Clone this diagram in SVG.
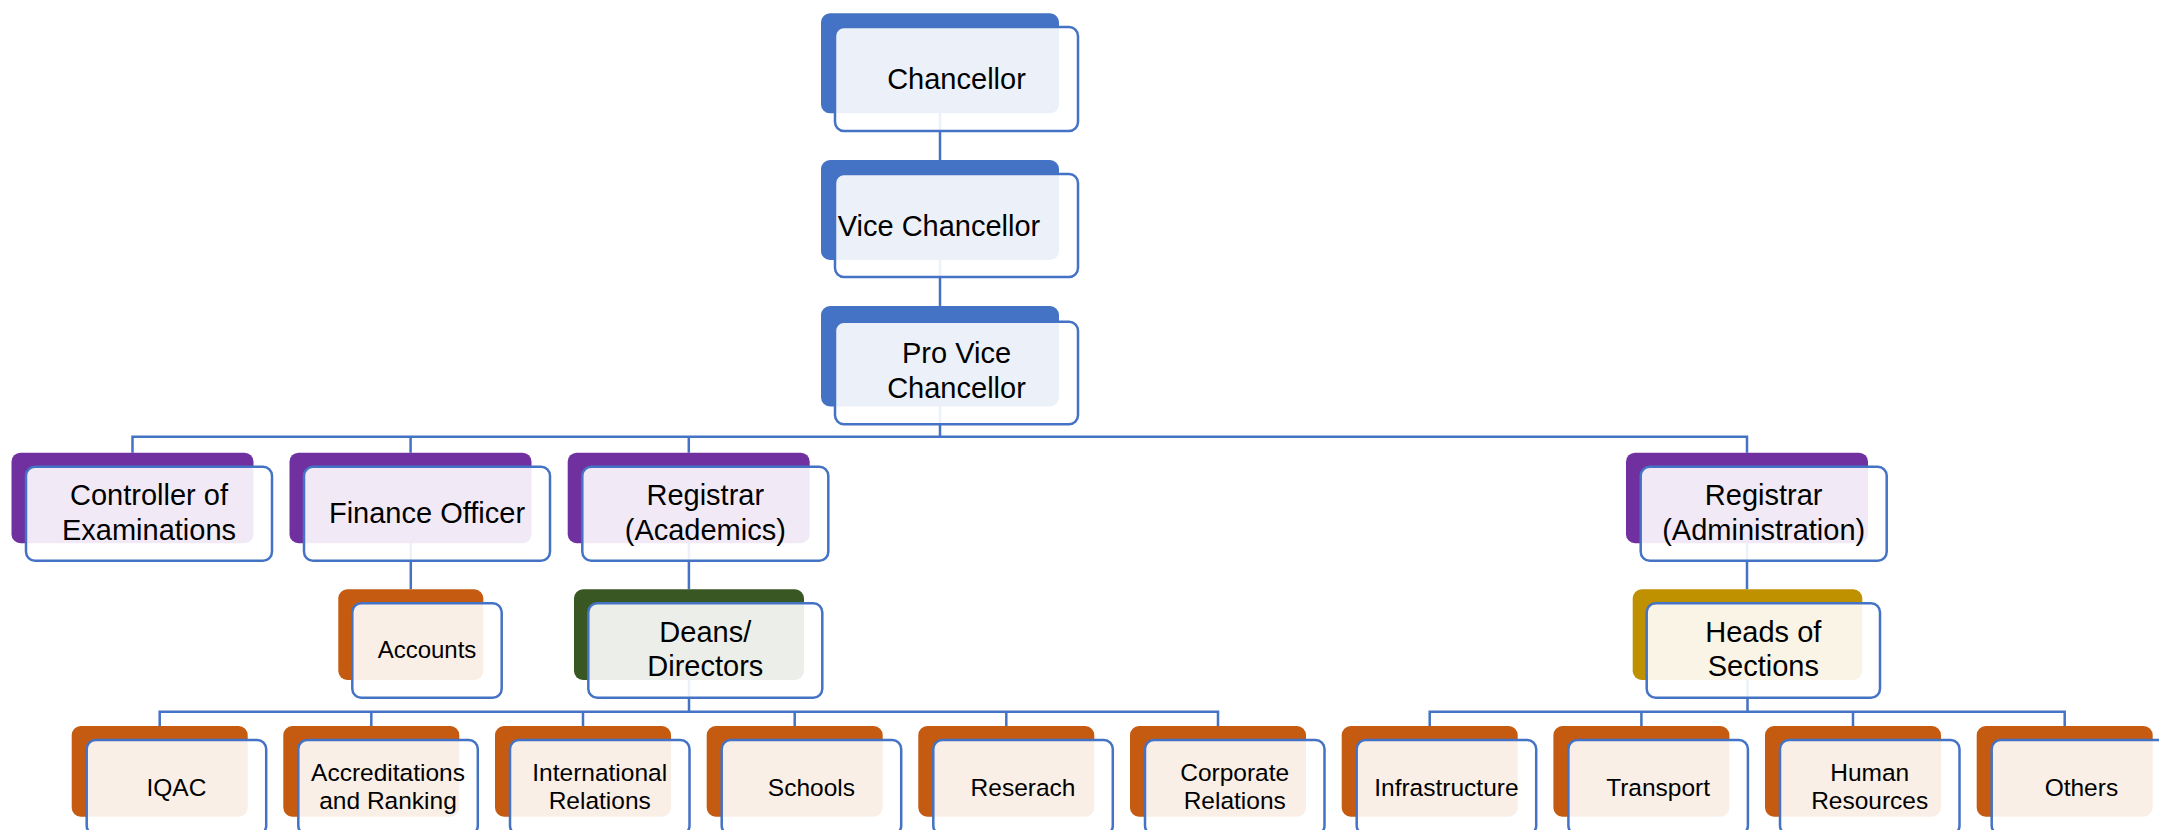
<svg xmlns="http://www.w3.org/2000/svg" width="2159" height="830" viewBox="0 0 2159 830">
<style>
.bk{stroke:none}
.blue{fill:#4472C4}
.purple{fill:#7030A0}
.orange{fill:#C55A11}
.green{fill:#385723}
.gold{fill:#BF9000}
.fr{fill:#FFFFFF;fill-opacity:0.9;stroke:#4472C4;stroke-width:2.5}
.cn{fill:none;stroke:#4472C4;stroke-width:2.5}
text{font-family:"Liberation Sans",Arial,sans-serif;fill:#000;text-anchor:middle}
.t1{font-size:29px}
.t3{font-size:24px}
.t4{font-size:24.5px}
</style>
<rect width="2159" height="830" fill="#FFFFFF"/>
<g id="connectors">
<path class="cn" d="M940,113 V160 M940,260 V306 M940,406 V436.7"/>
<path class="cn" d="M132.5,452.7 V436.7 H1747 V452.7 M410.6,436.7 V452.7 M688.8,436.7 V452.7"/>
<path class="cn" d="M410.8,543 V589.3 M688.9,543 V589.3 M1747,543 V589.3"/>
<path class="cn" d="M689,680 V711.7 M159.7,726 V711.7 H1218 V726 M371.3,711.7 V726 M583,711.7 V726 M794.7,711.7 V726 M1006.3,711.7 V726"/>
<path class="cn" d="M1747.5,680 V711.7 M1429.7,726 V711.7 H2064.7 V726 M1641.4,711.7 V726 M1853,711.7 V726"/>
</g>
<g id="chancellor">
<rect class="bk blue" x="821" y="13.3" width="238" height="100" rx="9"/>
<rect class="fr" x="835" y="27" width="243" height="104" rx="9"/>
<text class="t1" x="956.5" y="89">Chancellor</text>
</g>
<g id="vice-chancellor">
<rect class="bk blue" x="821" y="160" width="238" height="100" rx="9"/>
<rect class="fr" x="835" y="174" width="243" height="103" rx="9"/>
<text class="t1" x="939" y="235.5">Vice Chancellor</text>
</g>
<g id="pro-vice-chancellor">
<rect class="bk blue" x="821" y="306" width="238" height="100.5" rx="9"/>
<rect class="fr" x="835" y="321.7" width="243" height="102.6" rx="9"/>
<text class="t1" x="956.5" y="363.3">Pro Vice</text>
<text class="t1" x="956.5" y="398.3">Chancellor</text>
</g>
<g id="controller-of-examinations">
<rect class="bk purple" x="11.5" y="452.7" width="242" height="90.5" rx="9"/>
<rect class="fr" x="26" y="466.7" width="246" height="94" rx="9"/>
<text class="t1" x="149" y="505">Controller of</text>
<text class="t1" x="149" y="540">Examinations</text>
</g>
<g id="finance-officer">
<rect class="bk purple" x="289.5" y="452.7" width="242" height="90.5" rx="9"/>
<rect class="fr" x="304" y="466.7" width="246" height="94" rx="9"/>
<text class="t1" x="427" y="522.5">Finance Officer</text>
</g>
<g id="registrar-academics">
<rect class="bk purple" x="567.7" y="452.7" width="242" height="90.5" rx="9"/>
<rect class="fr" x="582.3" y="466.7" width="246" height="94" rx="9"/>
<text class="t1" x="705.3" y="505">Registrar</text>
<text class="t1" x="705.3" y="540">(Academics)</text>
</g>
<g id="registrar-administration">
<rect class="bk purple" x="1626" y="452.7" width="242" height="90.5" rx="9"/>
<rect class="fr" x="1640.7" y="466.7" width="246" height="94" rx="9"/>
<text class="t1" x="1763.7" y="505">Registrar</text>
<text class="t1" x="1763.7" y="540">(Administration)</text>
</g>
<g id="accounts">
<rect class="bk orange" x="338.3" y="589.3" width="145" height="90.7" rx="9"/>
<rect class="fr" x="352.3" y="603.3" width="149.4" height="94.4" rx="9"/>
<text class="t3" x="427" y="658">Accounts</text>
</g>
<g id="deans-directors">
<rect class="bk green" x="574" y="589.3" width="230" height="90.7" rx="9"/>
<rect class="fr" x="588.3" y="603.3" width="234" height="94.4" rx="9"/>
<text class="t1" x="705.3" y="641.7">Deans/</text>
<text class="t1" x="705.3" y="676">Directors</text>
</g>
<g id="heads-of-sections">
<rect class="bk gold" x="1632.7" y="589.3" width="229.6" height="90.7" rx="9"/>
<rect class="fr" x="1646.7" y="603.3" width="233.3" height="94.4" rx="9"/>
<text class="t1" x="1763.3" y="641.7">Heads of</text>
<text class="t1" x="1763.3" y="676">Sections</text>
</g>
<g id="iqac">
<rect class="bk orange" x="71.7" y="726" width="176" height="90.7" rx="9"/>
<rect class="fr" x="86.7" y="740" width="179.5" height="94.7" rx="9"/>
<text class="t4" x="176.4" y="795.5">IQAC</text>
</g>
<g id="accreditations-and-ranking">
<rect class="bk orange" x="283.3" y="726" width="176" height="90.7" rx="9"/>
<rect class="fr" x="298.3" y="740" width="179.5" height="94.7" rx="9"/>
<text class="t4" x="388" y="781">Accreditations</text>
<text class="t4" x="388" y="809">and Ranking</text>
</g>
<g id="international-relations">
<rect class="bk orange" x="495" y="726" width="176" height="90.7" rx="9"/>
<rect class="fr" x="510" y="740" width="179.5" height="94.7" rx="9"/>
<text class="t4" x="599.7" y="781">International</text>
<text class="t4" x="599.7" y="809">Relations</text>
</g>
<g id="schools">
<rect class="bk orange" x="706.7" y="726" width="176" height="90.7" rx="9"/>
<rect class="fr" x="721.7" y="740" width="179.5" height="94.7" rx="9"/>
<text class="t4" x="811.4" y="795.5">Schools</text>
</g>
<g id="reserach">
<rect class="bk orange" x="918.3" y="726" width="176" height="90.7" rx="9"/>
<rect class="fr" x="933.3" y="740" width="179.5" height="94.7" rx="9"/>
<text class="t4" x="1023" y="795.5">Reserach</text>
</g>
<g id="corporate-relations">
<rect class="bk orange" x="1130" y="726" width="176" height="90.7" rx="9"/>
<rect class="fr" x="1145" y="740" width="179.5" height="94.7" rx="9"/>
<text class="t4" x="1234.7" y="781">Corporate</text>
<text class="t4" x="1234.7" y="809">Relations</text>
</g>
<g id="infrastructure">
<rect class="bk orange" x="1341.7" y="726" width="176" height="90.7" rx="9"/>
<rect class="fr" x="1356.7" y="740" width="179.5" height="94.7" rx="9"/>
<text class="t4" x="1446.4" y="795.5">Infrastructure</text>
</g>
<g id="transport">
<rect class="bk orange" x="1553.4" y="726" width="176" height="90.7" rx="9"/>
<rect class="fr" x="1568.4" y="740" width="179.5" height="94.7" rx="9"/>
<text class="t4" x="1658.1" y="795.5">Transport</text>
</g>
<g id="human-resources">
<rect class="bk orange" x="1765" y="726" width="176" height="90.7" rx="9"/>
<rect class="fr" x="1780" y="740" width="179.5" height="94.7" rx="9"/>
<text class="t4" x="1869.7" y="781">Human</text>
<text class="t4" x="1869.7" y="809">Resources</text>
</g>
<g id="others">
<rect class="bk orange" x="1976.7" y="726" width="176" height="90.7" rx="9"/>
<rect class="fr" x="1991.7" y="740" width="179.5" height="94.7" rx="9"/>
<text class="t4" x="2081.4" y="795.5">Others</text>
</g>
</svg>
